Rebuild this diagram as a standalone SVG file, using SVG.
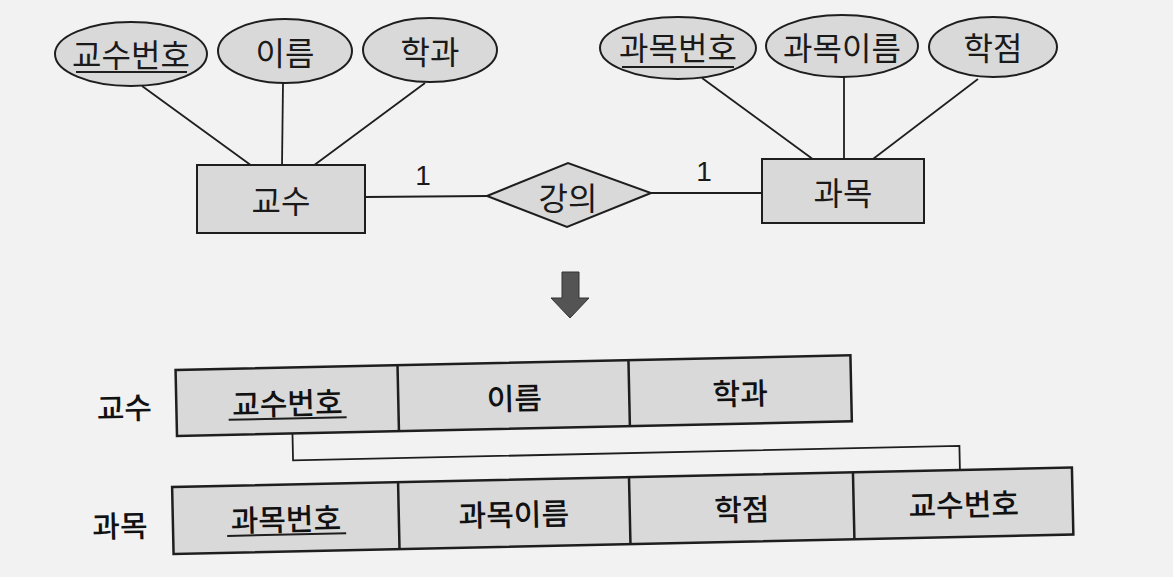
<svg xmlns="http://www.w3.org/2000/svg" width="1173" height="577" viewBox="0 0 1173 577">
<style>
.shape{fill:#d9d9d9;stroke:#1e1e1e;stroke-width:2}
.tbl{fill:#d9d9d9;stroke:#1e1e1e;stroke-width:2.5}
.ln{stroke:#1e1e1e;stroke-width:1.8;fill:none}
.ul{stroke:#1e1e1e;stroke-width:2}
.t{font-family:"Noto Sans CJK KR","Noto Sans",sans-serif;font-size:32px;fill:#1a1a1a;text-anchor:middle;dominant-baseline:central}
.tb{font-family:"Noto Sans CJK KR","Noto Sans",sans-serif;font-size:30px;font-weight:500;fill:#111;text-anchor:middle;dominant-baseline:central}
.n{font-family:"Liberation Sans",Arial,sans-serif;font-size:28px;fill:#1a1a1a;text-anchor:middle}
</style>
<rect width="1173" height="577" fill="#f2f2f2"/>
<g id="connectors">
<line class="ln" x1="142" y1="86" x2="252" y2="166"/>
<line class="ln" x1="283" y1="83" x2="282" y2="166"/>
<line class="ln" x1="425" y1="83" x2="313" y2="166"/>
<line class="ln" x1="702" y1="78" x2="814" y2="160"/>
<line class="ln" x1="844" y1="77" x2="844" y2="160"/>
<line class="ln" x1="978" y1="79" x2="873" y2="159"/>
<line class="ln" x1="365" y1="197" x2="487" y2="196"/>
<line class="ln" x1="651" y1="193" x2="762" y2="193"/>
<polyline class="ln" transform="rotate(-1.25 176 436)" points="292.5,436 292.5,463 959,463 959,487"/>
</g>
<g id="attr-gyosubeonho">
<ellipse class="shape" cx="131" cy="54" rx="76" ry="32"/>
<text class="t" x="131" y="53">교수번호</text>
<line class="ul" x1="76" y1="72" x2="187" y2="72"/>
</g>
<g id="attr-ireum">
<ellipse class="shape" cx="285" cy="51" rx="67" ry="32"/>
<text class="t" x="285" y="51">이름</text>
</g>
<g id="attr-hakgwa">
<ellipse class="shape" cx="430" cy="50" rx="67" ry="32"/>
<text class="t" x="430" y="50">학과</text>
</g>
<g id="attr-gwamokbeonho">
<ellipse class="shape" cx="678" cy="48" rx="78" ry="31"/>
<text class="t" x="678" y="46">과목번호</text>
<line class="ul" x1="622" y1="67" x2="734" y2="67"/>
</g>
<g id="attr-gwamokireum">
<ellipse class="shape" cx="842" cy="46" rx="76" ry="31"/>
<text class="t" x="842" y="46">과목이름</text>
</g>
<g id="attr-hakjeom">
<ellipse class="shape" cx="993" cy="47" rx="64" ry="30"/>
<text class="t" x="993" y="46">학점</text>
</g>
<g id="entity-gyosu">
<rect class="shape" x="197" y="165" width="168" height="68"/>
<text class="t" x="281" y="199">교수</text>
</g>
<g id="entity-gwamok">
<rect class="shape" x="762" y="159" width="162" height="64"/>
<text class="t" x="843" y="191">과목</text>
</g>
<g id="rel-gangui">
<polygon class="shape" points="487,196 568,163 651,193 567,227"/>
<text class="t" x="568" y="196">강의</text>
</g>
<g id="card-1a"><text class="n" x="423" y="185">1</text></g>
<g id="card-1b"><text class="n" x="704" y="181">1</text></g>
<g id="arrow">
<polygon points="562,272 579,272 579,298 589,298 570,318 551,298 562,298" fill="#545454" stroke="#333" stroke-width="1"/>
</g>
<g transform="rotate(-1.25 176 436)">
<g id="table-gyosu">
<text class="tb" x="125" y="405">교수</text>
<rect class="tbl" x="177" y="370" width="675" height="66"/>
<line class="tbl" x1="399" y1="370" x2="399" y2="436"/>
<line class="tbl" x1="630" y1="370" x2="630" y2="436"/>
<text class="tb" x="288" y="404">교수번호</text>
<line class="ul" x1="229" y1="421" x2="347" y2="421"/>
<text class="tb" x="515" y="404">이름</text>
<text class="tb" x="741" y="404">학과</text>
</g>
<g id="table-gwamok">
<text class="tb" x="118" y="523">과목</text>
<rect class="tbl" x="171" y="487" width="900" height="67"/>
<line class="tbl" x1="397" y1="487" x2="397" y2="554"/>
<line class="tbl" x1="628" y1="487" x2="628" y2="554"/>
<line class="tbl" x1="852" y1="487" x2="852" y2="554"/>
<text class="tb" x="284" y="520">과목번호</text>
<line class="ul" x1="225" y1="537" x2="344" y2="537"/>
<text class="tb" x="512" y="520">과목이름</text>
<text class="tb" x="740" y="520">학점</text>
<text class="tb" x="962" y="520">교수번호</text>
</g>
</g>
</svg>
